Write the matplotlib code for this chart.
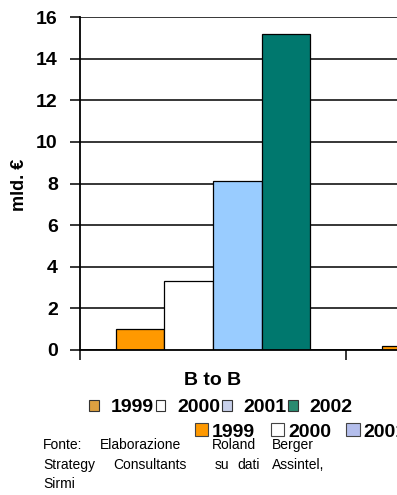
import matplotlib
matplotlib.use('Agg')
from matplotlib.pyplot import figure, rcParams
from matplotlib.patches import Patch
from numpy import arange

rcParams['font.family'] = ['Liberation Sans', 'DejaVu Sans']


# Market value (billions of euro) per segment and year
segments = ['B to B', 'B to C']
years = ['1999', '2000', '2001', '2002']
values_1999 = [1.0, 0.2]
values_2000 = [3.3, 0.5]
values_2001 = [8.1, 1.3]
values_2002 = [15.2, 2.6]
y_ticks = [0, 2, 4, 6, 8, 10, 12, 14, 16]
y_label = 'mld. €'
source_lines = [['Fonte:', 'Elaborazione', 'Roland', 'Berger'],
                ['Strategy', 'Consultants', 'su', 'dati', 'Assintel,'],
                ['Sirmi']]

# Styles
bar_colors = ['#FF9900', '#FFFFFF', '#99CCFF', '#00786E']
legend1_colors = ['#DDA040', '#FFFFFF', '#C8D0EA', '#2A8A70']
legend2_colors = ['#FF9900', '#FFFFFF', '#B4BEEC', '#00786E']

W, H = 397, 495
fig = figure(figsize=(W / 100, H / 100), dpi=100)
fig.patch.set_facecolor('white')

# plot area is wider than the figure, second segment is cut at the right
ax = fig.add_axes([80 / W, 1 - 350 / H, 532 / W, 333 / H])

x = arange(len(segments))
width = 0.183
series = [values_1999, values_2000, values_2001, values_2002]
for i, (vals, col) in enumerate(zip(series, bar_colors)):
    ax.bar(x + (i - 1.5) * width, vals, width, color=col, edgecolor='black',
           linewidth=0.9, zorder=2)

ax.set_xlim(-0.5, 1.5)
ax.set_ylim(0, 16)
ax.set_axisbelow(True)
ax.yaxis.grid(True, color='black', linewidth=1.1)

for side in ['top', 'right']:
    ax.spines[side].set_visible(False)
for side in ['left', 'bottom']:
    ax.spines[side].set_linewidth(1.3)

ax.set_yticks(y_ticks)
ax.set_yticklabels([str(t) for t in y_ticks], fontsize=14, fontweight='bold')
ax.tick_params(axis='y', length=7, width=1.1, pad=9)

ax.set_xticks([-0.5, 0.5, 1.5])
ax.set_xticklabels([])
ax.tick_params(axis='x', which='major', length=7, width=1.1)
ax.set_xticks(x, minor=True)
ax.set_xticklabels(segments, minor=True, fontsize=14, fontweight='bold')
ax.tick_params(axis='x', which='minor', length=0, pad=16)

fig.text(19 / W, 1 - 185 / H, y_label, rotation=90, ha='center', va='center',
         fontsize=13, fontweight='bold')

# Legends
leg1 = fig.legend(handles=[Patch(facecolor=c, edgecolor='#333333', linewidth=0.8) for c in legend1_colors],
                  labels=years, ncol=4, loc='center', bbox_to_anchor=(221 / W, 1 - 408 / H),
                  frameon=False, prop=dict(weight='bold', size=14), handlelength=0.5,
                  handleheight=0.5, handletextpad=0.6, columnspacing=0.1, borderpad=0)

leg2 = fig.legend(handles=[Patch(facecolor=c, edgecolor='#444444', linewidth=0.8) for c in legend2_colors],
                  labels=years, ncol=4, loc='center left', bbox_to_anchor=(195 / W, 1 - 432 / H),
                  frameon=False, prop=dict(weight='bold', size=14), handlelength=0.68,
                  handleheight=0.62, handletextpad=0.2, columnspacing=0.8, borderpad=0,
                  borderaxespad=0)

# Source note, words spread out across the line
word_x = [[43, 100, 212, 272], [43, 113, 215, 237, 272], [43]]
line_y = [445, 465, 484]
for words, xs, y in zip(source_lines, word_x, line_y):
    for w, xp in zip(words, xs):
        fig.text(xp / W, 1 - y / H, w, ha='left', va='center', fontsize=10)

fig.savefig('out.png', dpi=100)
